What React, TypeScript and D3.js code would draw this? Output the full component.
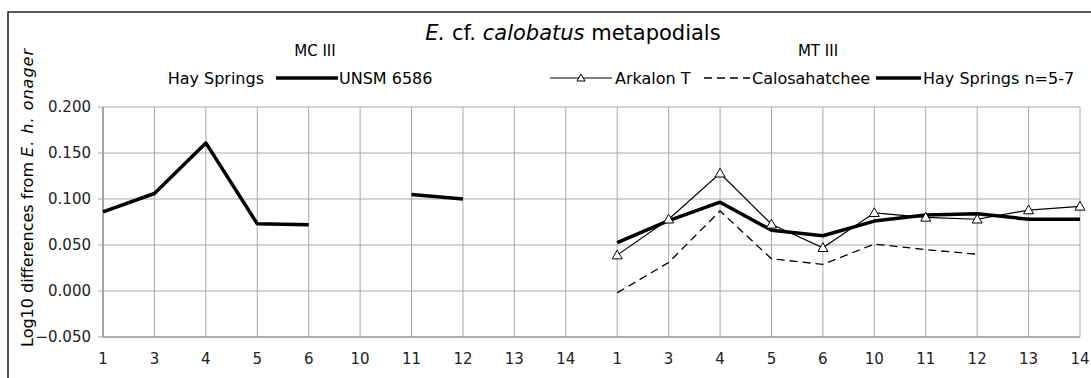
import * as React from 'react'
import * as d3 from 'd3'

const xLabels = ['1', '3', '4', '5', '6', '10', '11', '12', '13', '14', '1', '3', '4', '5', '6', '10', '11', '12', '13', '14']
const yTicks = [-0.05, 0, 0.05, 0.1, 0.15, 0.2]

type V = number | null

// MC III, Hay Springs UNSM 6586
const mcUnsm: V[] = [0.086, 0.106, 0.161, 0.073, 0.072, null, 0.105, 0.1, null, null, null, null, null, null, null, null, null, null, null, null]
// MT III series
const mtArkalon: V[] = [null, null, null, null, null, null, null, null, null, null, 0.039, 0.078, 0.128, 0.0725, 0.047, 0.085, 0.08, 0.078, 0.088, 0.092]
const mtCalosahatchee: V[] = [null, null, null, null, null, null, null, null, null, null, -0.002, 0.031, 0.087, 0.035, 0.029, 0.051, 0.045, 0.04, null, null]
const mtHaySprings: V[] = [null, null, null, null, null, null, null, null, null, null, 0.0525, 0.0765, 0.0965, 0.066, 0.06, 0.076, 0.0825, 0.084, 0.078, 0.078]

const W = 1091
const H = 378
const FONT = '"DejaVu Sans", Verdana, sans-serif'

function tri(cx: number, cy: number, s = 5) {
  return `M${cx},${cy - s}L${cx + s},${cy + s * 0.75}L${cx - s},${cy + s * 0.75}Z`
}

export default function App() {
  const x = d3.scalePoint<number>().domain(d3.range(xLabels.length)).range([103, 1080])
  const y = d3.scaleLinear().domain([-0.05, 0.2]).range([337, 107])

  const line = d3
    .line<V>()
    .defined((d) => d != null)
    .x((_, i) => x(i) as number)
    .y((d) => y(d as number))

  const fmt = d3.format('.3f')

  return (
    <svg width={W} height={H} style={{ position: 'absolute', left: 0, top: 0, fontFamily: FONT }}>
      <rect x={0} y={0} width={W} height={H} fill="#fff" />
      {/* outer frame */}
      <path d={`M8,${H}V12H${W}`} fill="none" stroke="#222" strokeWidth={1.5} />

      {/* grid */}
      {yTicks.map((t) => (
        <g key={t}>
          <line x1={98} x2={1080} y1={y(t)} y2={y(t)} stroke="#a8a8a8" strokeWidth={1} />
          <text x={91} y={y(t)} dy="0.35em" textAnchor="end" fontSize={15} fill="#222">
            {fmt(t)}
          </text>
        </g>
      ))}
      {xLabels.map((lab, i) => (
        <g key={i}>
          <line x1={x(i)} x2={x(i)} y1={107} y2={337} stroke="#a8a8a8" strokeWidth={1} />
          <text x={x(i)} y={364} textAnchor="middle" fontSize={15} fill="#222">
            {lab}
          </text>
        </g>
      ))}
      <line x1={103} x2={103} y1={107} y2={337} stroke="#888" strokeWidth={1.2} />
      <line x1={103} x2={1080} y1={337} y2={337} stroke="#888" strokeWidth={1.2} />

      {/* series */}
      <path d={line(mcUnsm) ?? ''} fill="none" stroke="#000" strokeWidth={3.5} strokeLinejoin="round" />
      <path d={line(mtCalosahatchee) ?? ''} fill="none" stroke="#000" strokeWidth={1.3} strokeDasharray="8,5" />
      <path d={line(mtArkalon) ?? ''} fill="none" stroke="#000" strokeWidth={1.2} />
      <path d={line(mtHaySprings) ?? ''} fill="none" stroke="#000" strokeWidth={3.5} strokeLinejoin="round" />
      {mtArkalon.map((v, i) =>
        v == null ? null : <path key={i} d={tri(x(i) as number, y(v))} fill="#fff" stroke="#000" strokeWidth={1} />,
      )}

      {/* titles */}
      <text x={573} y={40} textAnchor="middle" fontSize={21} fill="#000">
        <tspan fontStyle="italic">E.</tspan> cf. <tspan fontStyle="italic">calobatus</tspan> metapodials
      </text>
      <text x={315} y={56} textAnchor="middle" fontSize={15} fill="#000">
        MC III
      </text>
      <text x={818} y={56} textAnchor="middle" fontSize={15} fill="#000">
        MT III
      </text>

      {/* legend */}
      <g fontSize={16} fill="#000">
        <text x={264} y={84} textAnchor="end">
          Hay Springs
        </text>
        <line x1={276} x2={338} y1={78} y2={78} stroke="#000" strokeWidth={3.5} />
        <text x={339} y={84}>UNSM 6586</text>

        <line x1={550} x2={612} y1={78} y2={78} stroke="#000" strokeWidth={1.2} />
        <path d={tri(581, 78, 4)} fill="#fff" stroke="#000" strokeWidth={1} />
        <text x={615} y={84}>Arkalon T</text>

        <line x1={704} x2={750} y1={78} y2={78} stroke="#000" strokeWidth={1.3} strokeDasharray="8,5" />
        <text x={752} y={84}>Calosahatchee</text>

        <line x1={876} x2={921} y1={78} y2={78} stroke="#000" strokeWidth={3.5} />
        <text x={923} y={84}>Hay Springs n=5-7</text>
      </g>

      {/* y axis title */}
      <text transform="translate(33,347) rotate(-90)" fontSize={16} fill="#000">
        Log10 differences from{' '}
        <tspan fontStyle="italic" letterSpacing={1}>
          E. h. onager
        </tspan>
      </text>
    </svg>
  )
}
